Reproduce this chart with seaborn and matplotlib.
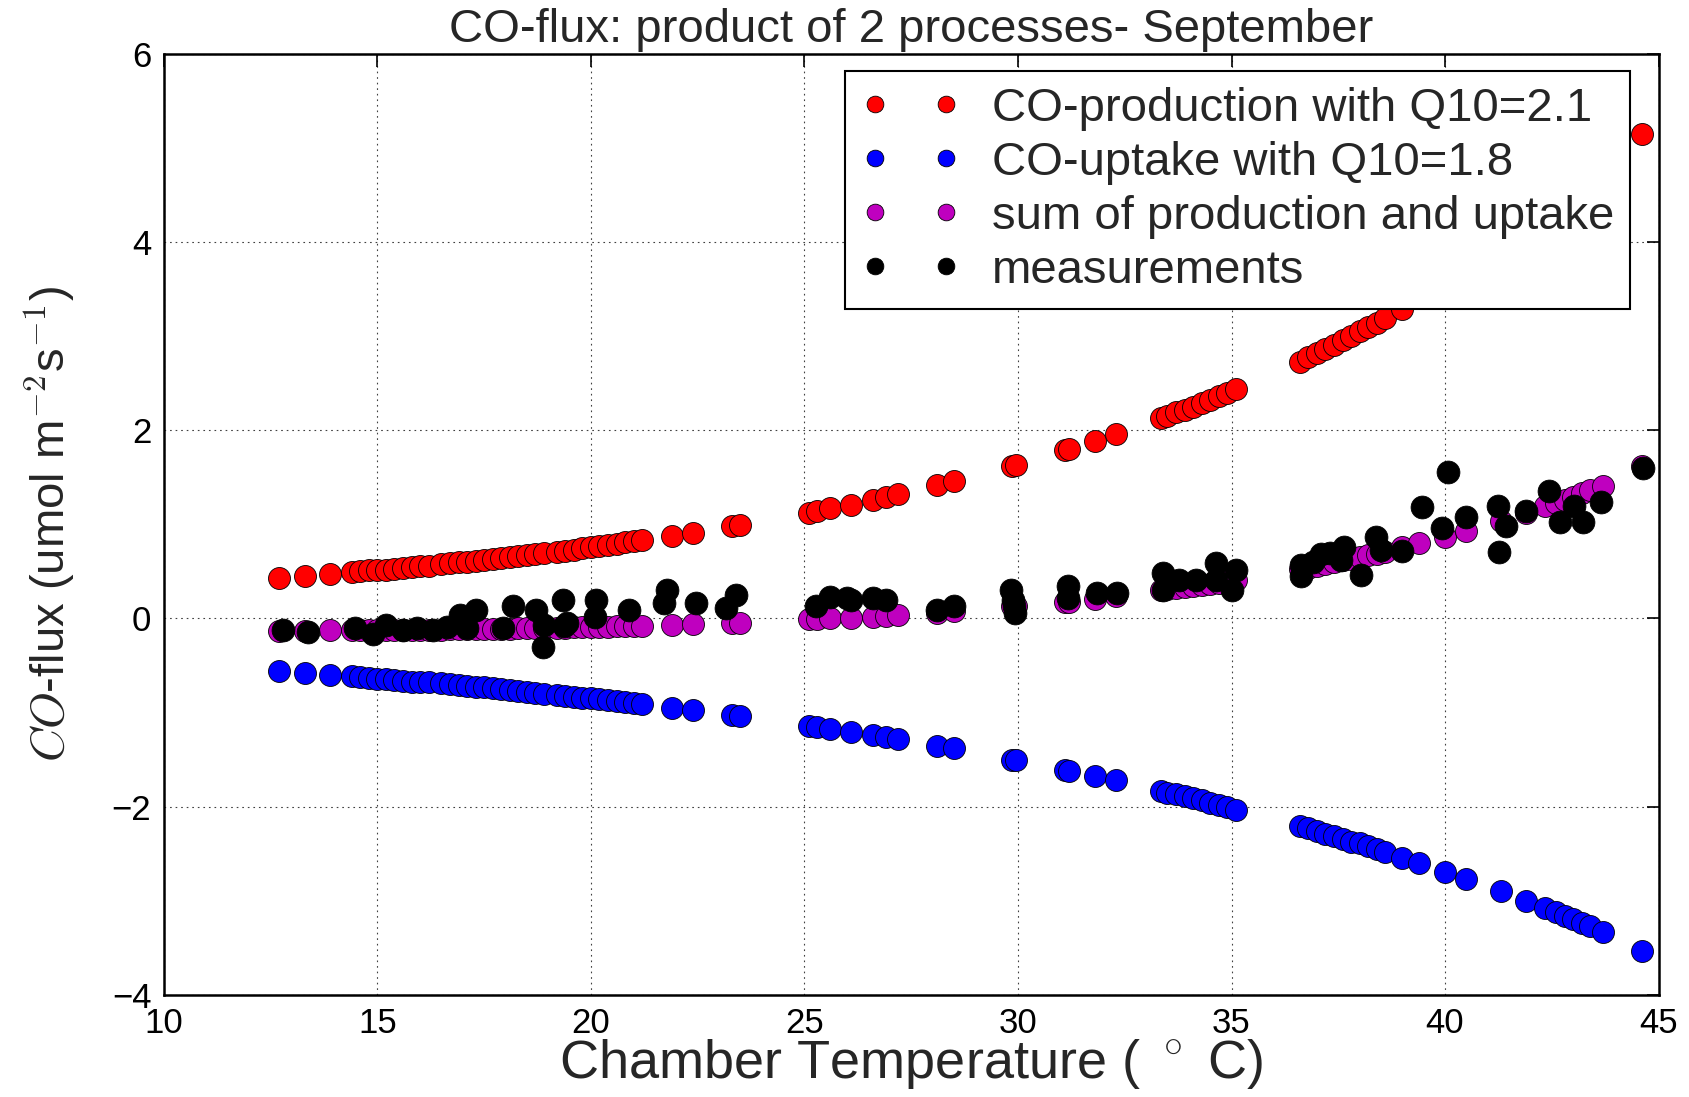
import matplotlib
matplotlib.use("Agg")
import matplotlib.pyplot as plt
from matplotlib.lines import Line2D
import seaborn as sns

# Chamber temperatures (deg C) at which the two-process model is evaluated
temperature = [
    12.7, 13.3, 13.9, 14.4, 14.6, 14.8, 15.0, 15.2, 15.4, 15.6, 15.8, 16.0, 16.2,
    16.5, 16.7, 16.9, 17.1, 17.3, 17.5, 17.7, 17.9, 18.1, 18.3, 18.5, 18.7, 18.9,
    19.2, 19.4, 19.6, 19.8, 20.0, 20.2, 20.4, 20.6, 20.8, 21.0, 21.2, 21.9, 22.4,
    23.3, 23.5, 25.1, 25.3, 25.6, 26.1, 26.6, 26.9, 27.2, 28.1, 28.5, 29.85, 29.95,
    31.1, 31.2, 31.8, 32.3, 33.35, 33.5, 33.7, 33.9, 34.1, 34.3, 34.5, 34.7, 34.9,
    35.1, 36.6, 36.8, 37.0, 37.2, 37.4, 37.6, 37.8, 38.0, 38.2, 38.4, 38.6, 39.0,
    39.4, 40.0, 40.5, 41.3, 41.9, 42.35, 42.6, 42.8, 43.0, 43.2, 43.4, 43.7, 44.6,
]

# CO production (Q10 = 2.1)
production = [
    0.43, 0.45, 0.47, 0.49, 0.50, 0.51, 0.51, 0.52, 0.53, 0.54, 0.55, 0.56, 0.56,
    0.58, 0.59, 0.60, 0.60, 0.61, 0.62, 0.63, 0.64, 0.65, 0.66, 0.67, 0.68, 0.70,
    0.71, 0.72, 0.73, 0.75, 0.76, 0.77, 0.78, 0.79, 0.81, 0.82, 0.83, 0.88, 0.91,
    0.98, 0.99, 1.12, 1.14, 1.17, 1.21, 1.26, 1.29, 1.32, 1.42, 1.46, 1.62, 1.63,
    1.79, 1.80, 1.89, 1.96, 2.13, 2.15, 2.19, 2.22, 2.25, 2.29, 2.32, 2.36, 2.40,
    2.44, 2.73, 2.78, 2.82, 2.86, 2.91, 2.96, 3.00, 3.05, 3.10, 3.14, 3.19, 3.29,
    3.40, 3.56, 3.70, 3.93, 4.12, 4.27, 4.35, 4.42, 4.49, 4.56, 4.63, 4.74, 5.15,
]

# CO uptake (Q10 = 1.8)
uptake = [
    -0.56, -0.58, -0.60, -0.61, -0.62, -0.63, -0.64, -0.64, -0.65, -0.66, -0.67, -0.67, -0.68,
    -0.69, -0.70, -0.71, -0.72, -0.73, -0.73, -0.74, -0.75, -0.76, -0.77, -0.78, -0.79, -0.80,
    -0.81, -0.82, -0.83, -0.84, -0.85, -0.86, -0.87, -0.88, -0.89, -0.90, -0.91, -0.95, -0.97,
    -1.03, -1.04, -1.14, -1.15, -1.17, -1.21, -1.24, -1.26, -1.28, -1.35, -1.38, -1.50, -1.50,
    -1.61, -1.62, -1.67, -1.72, -1.83, -1.85, -1.87, -1.89, -1.91, -1.93, -1.96, -1.98, -2.00,
    -2.03, -2.21, -2.23, -2.26, -2.29, -2.31, -2.34, -2.37, -2.39, -2.42, -2.45, -2.48, -2.54,
    -2.60, -2.69, -2.77, -2.90, -3.00, -3.08, -3.12, -3.16, -3.19, -3.23, -3.27, -3.33, -3.53,
]

# Net flux: production plus uptake
net_flux = [
    -0.13, -0.13, -0.12, -0.12, -0.12, -0.12, -0.12, -0.12, -0.12, -0.12, -0.12, -0.12, -0.12,
    -0.12, -0.11, -0.11, -0.11, -0.11, -0.11, -0.11, -0.11, -0.11, -0.10, -0.10, -0.10, -0.10,
    -0.10, -0.10, -0.09, -0.09, -0.09, -0.09, -0.09, -0.08, -0.08, -0.08, -0.08, -0.07, -0.06,
    -0.05, -0.05, -0.01, -0.01, 0.00, 0.01, 0.02, 0.03, 0.04, 0.06, 0.08, 0.13, 0.13,
    0.18, 0.18, 0.21, 0.24, 0.30, 0.31, 0.32, 0.33, 0.34, 0.36, 0.37, 0.38, 0.40,
    0.41, 0.53, 0.54, 0.56, 0.58, 0.60, 0.62, 0.63, 0.65, 0.67, 0.69, 0.71, 0.76,
    0.80, 0.87, 0.93, 1.04, 1.12, 1.19, 1.23, 1.26, 1.29, 1.33, 1.36, 1.41, 1.62,
]

# Chamber measurements
meas_temperature = [
    12.79, 13.37, 14.47, 14.9, 15.21, 15.6, 15.92, 16.3, 16.62, 16.93, 17.1, 17.32,
    17.94, 18.17, 18.72, 18.88, 18.9, 19.35, 19.37, 19.43, 20.1, 20.13, 20.9, 21.7,
    21.77, 22.47, 23.17, 23.4, 25.28, 25.6, 26.0, 26.1, 26.6, 26.9, 28.1, 28.5,
    29.84, 29.88, 29.9, 29.92, 31.16, 31.16, 31.86, 32.33, 33.39, 33.4, 33.78, 34.17,
    34.64, 34.64, 35.0, 35.1, 36.63, 36.63, 36.9, 37.1, 37.3, 37.57, 37.64, 38.04,
    38.39, 38.5, 39.0, 39.47, 39.94, 40.06, 40.5, 41.23, 41.27, 41.43, 41.9, 42.44,
    42.68, 43.03, 43.22, 43.66, 44.63,
]
meas_flux = [
    -0.12, -0.14, -0.10, -0.17, -0.07, -0.12, -0.10, -0.12, -0.09, 0.04, -0.10, 0.09,
    -0.10, 0.13, 0.09, -0.30, -0.07, 0.20, -0.08, -0.05, 0.02, 0.20, 0.09, 0.16,
    0.30, 0.16, 0.11, 0.25, 0.13, 0.23, 0.22, 0.20, 0.22, 0.20, 0.09, 0.13,
    0.30, 0.20, 0.13, 0.06, 0.34, 0.22, 0.27, 0.27, 0.48, 0.30, 0.41, 0.41,
    0.59, 0.41, 0.30, 0.52, 0.45, 0.57, 0.60, 0.68, 0.70, 0.62, 0.76, 0.46,
    0.87, 0.73, 0.72, 1.18, 0.96, 1.56, 1.08, 1.20, 0.71, 0.98, 1.14, 1.35,
    1.02, 1.19, 1.02, 1.24, 1.60,
]

labels = [
    "CO-production with Q10=2.1",
    "CO-uptake with Q10=1.8",
    "sum of production and uptake",
    "measurements",
]
colours = ["#ff0000", "#0000ff", "#bf00bf", "#000000"]
x_ticks = [10, 15, 20, 25, 30, 35, 40, 45]
y_ticks = [-4, -2, 0, 2, 4, 6]

sns.set_style("white")
plt.rcParams["font.family"] = ["Liberation Sans", "DejaVu Sans"]
plt.rcParams["mathtext.fontset"] = "cm"

fig, ax = plt.subplots(figsize=(16.89, 10.97), dpi=100)
fig.subplots_adjust(left=0.097, right=0.982, top=0.951, bottom=0.093)

model_series = [production, uptake, net_flux]
for values, colour in zip(model_series, colours[:3]):
    sns.scatterplot(x=temperature, y=values, color=colour, s=250,
                    edgecolor="k", linewidth=0.6, ax=ax, zorder=3, legend=False)
sns.scatterplot(x=meas_temperature, y=meas_flux, color=colours[3], s=270,
                edgecolor="k", linewidth=0.6, ax=ax, zorder=4, legend=False)

ax.set_xlim(10, 45)
ax.set_ylim(-4, 6)
ax.set_xticks(x_ticks)
ax.set_yticks(y_ticks)
ax.set_axisbelow(True)
ax.grid(True, color="0.25", linestyle=(0, (1.5, 3.5)), linewidth=0.8)

ax.tick_params(direction="in", length=9, width=1.2, top=True, right=True,
               labelsize=25, pad=9, colors="k")
for spine in ax.spines.values():
    spine.set_color("k")
    spine.set_linewidth(1.8)

ax.set_title("CO-flux: product of 2 processes- September", fontsize=34, pad=8.5)
ax.set_xlabel("Chamber Temperature ( $^\\circ$ C)", fontsize=39)
ax.set_ylabel("$CO$-flux (umol m$^{-2}$s$^{-1}$)", fontsize=34)
ax.xaxis.set_label_coords(0.5, -0.045)
ax.yaxis.set_label_coords(-0.058, 0.5)

handles = [
    Line2D([], [], linestyle="none", marker="o", markersize=12,
           markerfacecolor=c, markeredgecolor="k", markeredgewidth=0.6)
    for c in colours
]
leg = ax.legend(handles, labels, loc="upper left", bbox_to_anchor=(0.4555, 0.982),
                numpoints=2, fontsize=34, frameon=True, fancybox=False,
                edgecolor="k", framealpha=1, borderpad=0.34, labelspacing=0.21,
                handlelength=2.1, handletextpad=0.68, borderaxespad=0.0)
leg.get_frame().set_linewidth(1.5)
leg.set_zorder(10)

fig.savefig("out.png", dpi=100)
